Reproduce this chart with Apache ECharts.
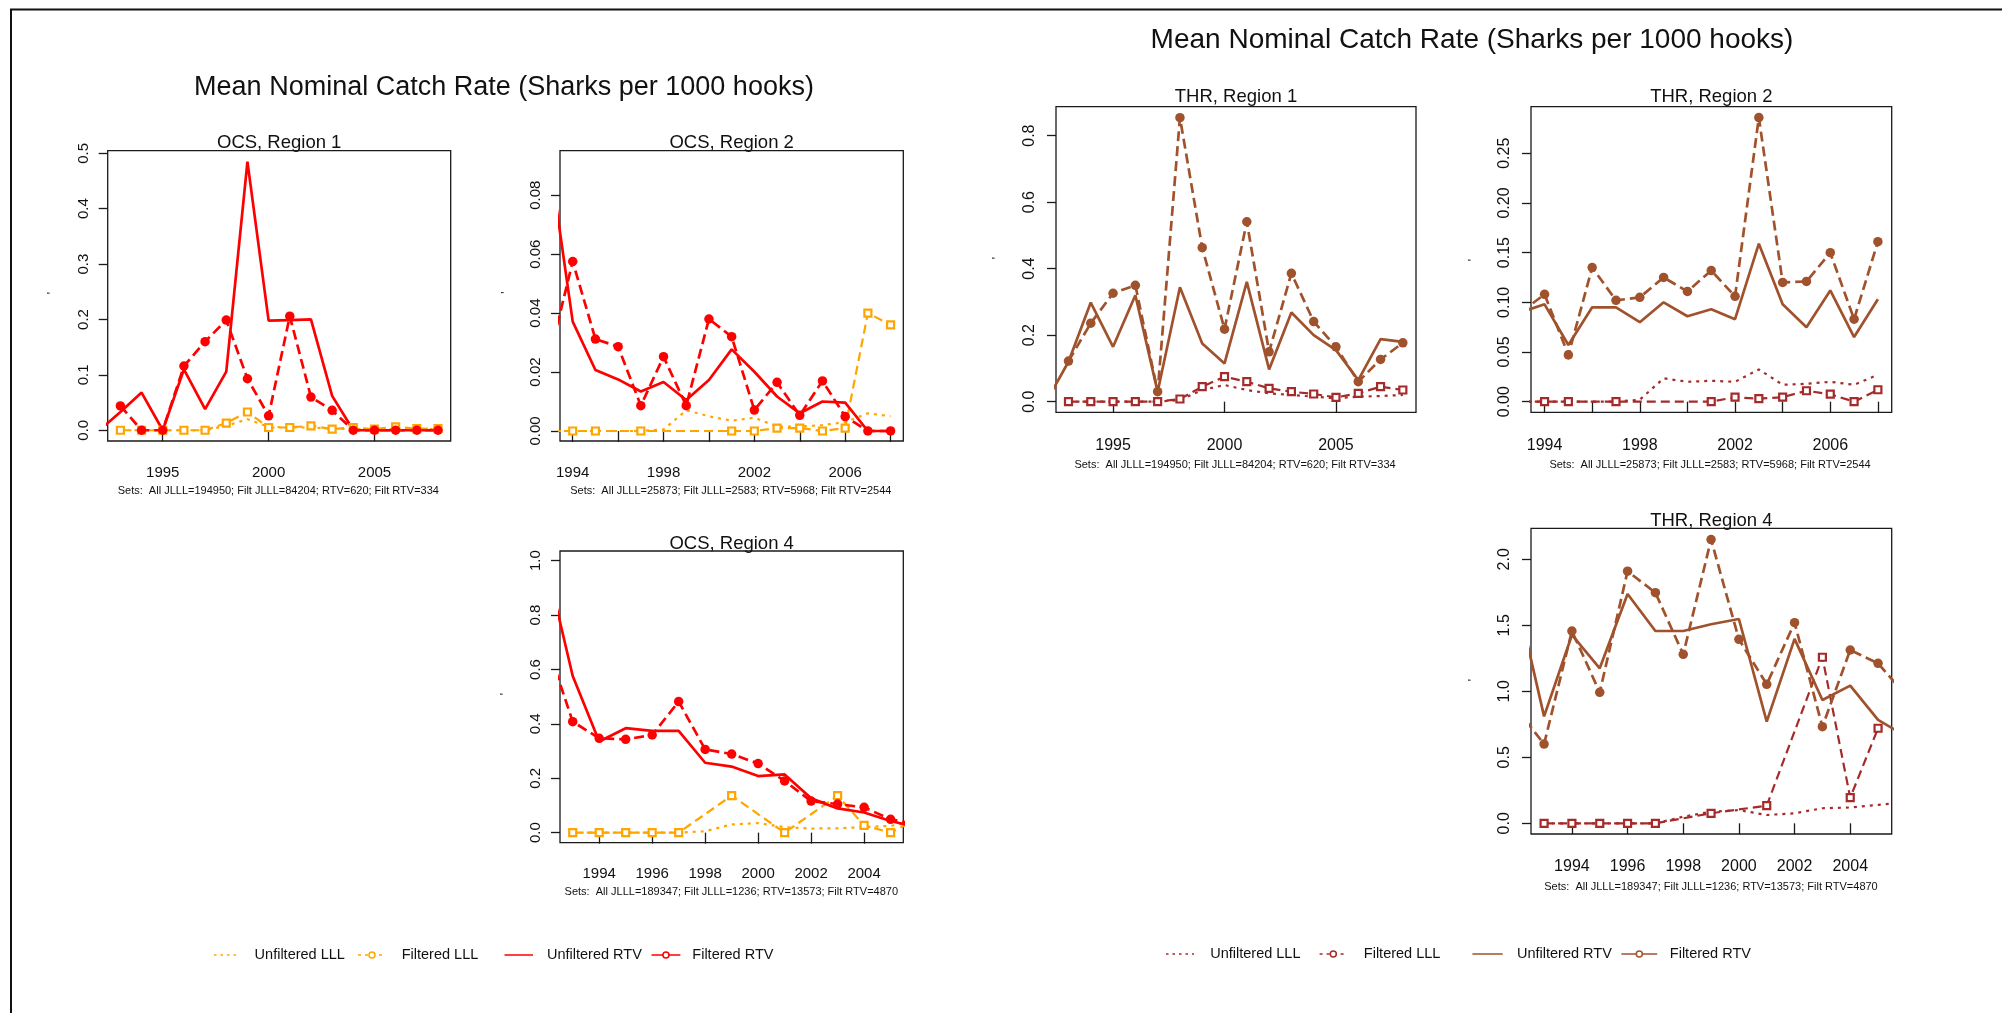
<!DOCTYPE html>
<html><head><meta charset="utf-8">
<script src="https://cdn.jsdelivr.net/npm/echarts/dist/echarts.min.js"></script>
<style>html,body{margin:0;padding:0;background:#fff}#c{width:2002px;height:1013px}</style>
</head><body><div id="c"></div><script>
// ---------- DATA ----------
// OCS, Region 1
const ocsR1Years   = [1992,1993,1994,1995,1996,1997,1998,1999,2000,2001,2002,2003,2004,2005,2006,2007,2008];
const ocsR1UnfLLL  = [null,0,0,0,0,0,0.008,0.020,0.006,0.005,0.005,0.003,0.002,0.002,0.002,0.002,0.002];
const ocsR1FiltLLL = [null,0,0,0,0,0,0.013,0.033,0.005,0.005,0.008,0.002,0.005,0.002,0.006,0.003,0.003];
const ocsR1UnfRTV  = [0,0.033,0.068,0,0.110,0.038,0.106,0.485,0.198,0.199,0.200,0.062,0,0,0,0,0];
const ocsR1FiltRTV = [null,0.044,0,0,0.116,0.160,0.199,0.093,0.026,0.206,0.060,0.036,0,0,0,0,0];
// OCS, Region 2
const ocsR2Years   = [1993,1994,1995,1996,1997,1998,1999,2000,2001,2002,2003,2004,2005,2006,2007,2008];
const ocsR2UnfLLL  = [0,0,0,0,0,0.0005,0.007,0.005,0.0035,0.0045,0.0015,0.0015,0.002,0.003,0.006,0.005];
const ocsR2FiltLLL = [0,0,0,null,0,null,null,null,0,0,0.001,0.001,0,0.001,0.040,0.036];
const ocsR2UnfRTV  = [0.0913,0.0371,0.0207,0.0175,0.0134,0.0166,0.0105,0.0173,0.0277,0.0201,0.0117,0.0060,0.0100,0.0096,0,0];
const ocsR2FiltRTV = [0.026,0.0575,0.0312,0.0286,0.0086,0.0252,0.0086,0.038,0.032,0.0071,0.0165,0.0053,0.017,0.0049,0,0];
// OCS, Region 4
const ocsR4Years   = [1992,1993,1994,1995,1996,1997,1998,1999,2000,2001,2002,2003,2004,2005,2006];
const ocsR4UnfLLL  = [null,0,0,0,0,0,0.005,0.030,0.035,0.020,0.015,0.016,0.020,0.025,0.040];
const ocsR4FiltLLL = [null,0,0,0,0,0,null,0.136,null,0,null,0.136,0.027,0,0.05];
const ocsR4UnfRTV  = [0.99,0.576,0.335,0.384,0.374,0.374,0.257,0.243,0.208,0.214,0.126,0.089,0.074,0.043,0.020];
const ocsR4FiltRTV = [0.70,0.408,0.347,0.343,0.359,0.482,0.306,0.289,0.254,0.190,0.116,0.105,0.093,0.049,0.030];
// THR, Region 1
const thrR1Years   = [1992,1993,1994,1995,1996,1997,1998,1999,2000,2001,2002,2003,2004,2005,2006,2007,2008];
const thrR1UnfLLL  = [null,0,0,0,0,0,0.005,0.035,0.050,0.035,0.025,0.020,0.015,0.010,0.015,0.017,0.020];
const thrR1FiltLLL = [null,0,0,0,0,0,0.008,0.045,0.075,0.060,0.040,0.030,0.023,0.013,0.025,0.045,0.035];
const thrR1UnfRTV  = [0,0.120,0.298,0.165,0.320,0.030,0.344,0.175,0.115,0.360,0.097,0.268,0.200,0.155,0.065,0.188,0.180];
const thrR1FiltRTV = [null,0.122,0.236,0.326,0.350,0.030,0.854,0.463,0.218,0.541,0.150,0.386,0.241,0.165,0.060,0.127,0.177];
// THR, Region 2
const thrR2Years   = [1993,1994,1995,1996,1997,1998,1999,2000,2001,2002,2003,2004,2005,2006,2007,2008];
const thrR2UnfLLL  = [0,0,0,0,0,0.002,0.0235,0.020,0.021,0.020,0.0325,0.017,0.018,0.020,0.017,0.027];
const thrR2FiltLLL = [0,0,0,null,0,null,null,null,0,0.0045,0.003,0.0045,0.011,0.0075,0,0.012];
const thrR2UnfRTV  = [0.090,0.098,0.057,0.095,0.095,0.080,0.100,0.086,0.093,0.083,0.159,0.098,0.075,0.112,0.065,0.103];
const thrR2FiltRTV = [0.090,0.108,0.047,0.135,0.102,0.105,0.125,0.111,0.132,0.106,0.286,0.120,0.121,0.150,0.083,0.161];
// THR, Region 4
const thrR4Years   = [1992,1993,1994,1995,1996,1997,1998,1999,2000,2001,2002,2003,2004,2005,2006];
const thrR4UnfLLL  = [null,0,0,0,0,0,0.050,0.088,0.100,0.063,0.076,0.114,0.120,0.139,0.160];
const thrR4FiltLLL = [null,0,0,0,0,0,null,0.076,null,0.134,null,1.258,0.194,0.720,null];
const thrR4UnfRTV  = [1.73,0.81,1.427,1.174,1.737,1.457,1.457,1.508,1.548,0.770,1.397,0.934,1.043,0.783,0.660];
const thrR4FiltRTV = [0.87,0.60,1.457,0.992,1.910,1.747,1.280,2.150,1.394,1.053,1.520,0.732,1.313,1.212,0.970];

// tick values / labels
const ocsR1XTicks = [1995,2000,2005];
const ocsR1YTicks = [0,0.1,0.2,0.3,0.4,0.5];
const ocsR2XTicks = [1994,1996,1998,2000,2002,2004,2006,2008];
const ocsR2XLabels = [1994,1998,2002,2006];
const ocsR2YTicks = [0,0.02,0.04,0.06,0.08];
const ocsR4XTicks = [1994,1996,1998,2000,2002,2004];
const ocsR4YTicks = [0,0.2,0.4,0.6,0.8,1.0];
const thrR1XTicks = [1995,2000,2005];
const thrR1YTicks = [0,0.2,0.4,0.6,0.8];
const thrR2XTicks = [1994,1996,1998,2000,2002,2004,2006,2008];
const thrR2XLabels = [1994,1998,2002,2006];
const thrR2YTicks = [0,0.05,0.10,0.15,0.20,0.25];
const thrR4XTicks = [1994,1996,1998,2000,2002,2004];
const thrR4YTicks = [0,0.5,1.0,1.5,2.0];

// texts
const mainTitle = 'Mean Nominal Catch Rate (Sharks per 1000 hooks)';
const legendNames = ['Unfiltered LLL','Filtered LLL','Unfiltered RTV','Filtered RTV'];
const setsR1 = 'Sets:  All JLLL=194950; Filt JLLL=84204; RTV=620; Filt RTV=334';
const setsR2 = 'Sets:  All JLLL=25873; Filt JLLL=2583; RTV=5968; Filt RTV=2544';
const setsR4 = 'Sets:  All JLLL=189347; Filt JLLL=1236; RTV=13573; Filt RTV=4870';

// ---------- LAYOUT ----------
const FONT = '"Liberation Sans", Arial, Helvetica, sans-serif';
const ORANGE = '#FFA500', RED = '#FF0000', SIENNA = '#A0522D', BROWN = '#A52A2A';

const panels = [
  {title:'OCS, Region 1', years:ocsR1Years, s:[ocsR1UnfLLL,ocsR1FiltLLL,ocsR1UnfRTV,ocsR1FiltRTV], lll:ORANGE, rtv:RED,
   box:[107.7,150.7,343,290.3], x:[1992.4,2008.6], y:[-0.0194,0.5047], xt:ocsR1XTicks, xl:ocsR1XTicks, yt:ocsR1YTicks, dec:1,
   fs:15, titleY:142.5, sets:setsR1, setsPos:[278.3,490.7], mark:[53,293]},
  {title:'OCS, Region 2', years:ocsR2Years, s:[ocsR2UnfLLL,ocsR2FiltLLL,ocsR2UnfRTV,ocsR2FiltRTV], lll:ORANGE, rtv:RED,
   box:[560,150.7,343.3,290.3], x:[1993.44,2008.56], y:[-0.0034,0.0951], xt:ocsR2XTicks, xl:ocsR2XLabels, yt:ocsR2YTicks, dec:2,
   fs:15, titleY:142.5, sets:setsR2, setsPos:[730.8,490.7], mark:[506.7,292.7]},
  {title:'OCS, Region 4', years:ocsR4Years, s:[ocsR4UnfLLL,ocsR4FiltLLL,ocsR4UnfRTV,ocsR4FiltRTV], lll:ORANGE, rtv:RED,
   box:[560,551,343.3,291.7], x:[1992.52,2005.48], y:[-0.037,1.0356], xt:ocsR4XTicks, xl:ocsR4XTicks, yt:ocsR4YTicks, dec:1,
   fs:15, titleY:544, sets:setsR4, setsPos:[731.3,892.3], mark:[506,694]},
  {title:'THR, Region 1', years:thrR1Years, s:[thrR1UnfLLL,thrR1FiltLLL,thrR1UnfRTV,thrR1FiltRTV], lll:BROWN, rtv:SIENNA,
   box:[1056,106.7,360,305.6], x:[1992.44,2008.59], y:[-0.032,0.887], xt:thrR1XTicks, xl:thrR1XTicks, yt:thrR1YTicks, dec:1,
   fs:16, titleY:97.3, sets:setsR1, setsPos:[1235,465], mark:[998,258]},
  {title:'THR, Region 2', years:thrR2Years, s:[thrR2UnfLLL,thrR2FiltLLL,thrR2UnfRTV,thrR2FiltRTV], lll:BROWN, rtv:SIENNA,
   box:[1531,106.7,360.7,305.6], x:[1993.43,2008.58], y:[-0.0107,0.2969], xt:thrR2XTicks, xl:thrR2XLabels, yt:thrR2YTicks, dec:2,
   fs:16, titleY:97.3, sets:setsR2, setsPos:[1710,465], mark:[1474,260]},
  {title:'THR, Region 4', years:thrR4Years, s:[thrR4UnfLLL,thrR4FiltLLL,thrR4UnfRTV,thrR4FiltRTV], lll:BROWN, rtv:SIENNA,
   box:[1531,528.3,360.7,305.7], x:[1992.53,2005.49], y:[-0.081,2.235], xt:thrR4XTicks, xl:thrR4XTicks, yt:thrR4YTicks, dec:1,
   fs:16, titleY:520.7, sets:setsR4, setsPos:[1711,886.7], mark:[1474,680]}
];

function pairs(years, vals){
  const out = [];
  years.forEach((y,i)=>{ if(vals[i] !== null && vals[i] !== undefined) out.push([y, vals[i]]); });
  return out;
}

const grid = [], xAxis = [], yAxis = [], series = [], graphic = [];
panels.forEach((p, gi) => {
  grid.push({left:p.box[0], top:p.box[1], width:p.box[2], height:p.box[3], show:true,
    borderColor:'#1a1a1a', borderWidth:1.3, backgroundColor:'transparent', containLabel:false});
  xAxis.push({type:'value', gridIndex:gi, min:p.x[0], max:p.x[1],
    axisLine:{show:false}, splitLine:{show:false},
    axisTick:{show:true, length:11, customValues:p.xt, lineStyle:{color:'#1a1a1a', width:1.3}},
    axisLabel:{customValues:p.xl, margin:p.fs===15?24:25, fontSize:p.fs, color:'#111', fontFamily:FONT,
      formatter:v=>String(Math.round(v))}});
  yAxis.push({type:'value', gridIndex:gi, min:p.y[0], max:p.y[1],
    axisLine:{show:false}, splitLine:{show:false},
    axisTick:{show:true, length:9, customValues:p.yt, lineStyle:{color:'#1a1a1a', width:1.3}},
    axisLabel:{customValues:p.yt, rotate:90, margin:p.fs===15?16.5:18, fontSize:p.fs, color:'#111', fontFamily:FONT,
      formatter:v=>Number(v).toFixed(p.dec)}});
  const base = {type:'line', xAxisIndex:gi, yAxisIndex:gi, animation:false, silent:true, clip:true,
    emphasis:{disabled:true}, showAllSymbol:true};
  // Unfiltered LLL (dotted)
  series.push(Object.assign({}, base, {name:legendNames[0], data:pairs(p.years,p.s[0]), symbol:'none',
    lineStyle:{color:p.lll, width:2.2, type:[3,5]}}));
  // Filtered LLL (dashed + open squares)
  series.push(Object.assign({}, base, {name:legendNames[1], data:pairs(p.years,p.s[1]), symbol:'rect', symbolSize:7,
    itemStyle:{color:'#fff', borderColor:p.lll, borderWidth:2.2},
    lineStyle:{color:p.lll, width:2.2, type:[9,5]}}));
  // Unfiltered RTV (solid)
  series.push(Object.assign({}, base, {name:legendNames[2], data:pairs(p.years,p.s[2]), symbol:'none',
    lineStyle:{color:p.rtv, width:2.7, type:'solid'}}));
  // Filtered RTV (dashed + filled circles)
  series.push(Object.assign({}, base, {name:legendNames[3], data:pairs(p.years,p.s[3]), symbol:'circle', symbolSize:9.5,
    itemStyle:{color:p.rtv, borderWidth:0},
    lineStyle:{color:p.rtv, width:2.7, type:[10,5]}}));

  // panel title
  graphic.push({type:'text', x:p.box[0]+p.box[2]/2, y:p.titleY, silent:true,
    style:{text:p.title, fontSize:18.5, fontFamily:FONT, fill:'#111', align:'center', verticalAlign:'middle'}});
  // sets subtitle
  graphic.push({type:'text', x:p.setsPos[0], y:p.setsPos[1], silent:true,
    style:{text:p.sets, fontSize:11, fontFamily:FONT, fill:'#111', align:'center', verticalAlign:'middle'}});
  // tiny y-label mark
  graphic.push({type:'text', x:p.mark[0], y:p.mark[1], rotation:Math.PI/2, silent:true,
    style:{text:"'", fontSize:12, fontFamily:FONT, fill:'#223', align:'center', verticalAlign:'middle'}});
});

// main titles
graphic.push({type:'text', x:504, y:88, silent:true,
  style:{text:mainTitle, fontSize:27, fontFamily:FONT, fill:'#111', align:'center', verticalAlign:'middle'}});
graphic.push({type:'text', x:1472, y:40, silent:true,
  style:{text:mainTitle, fontSize:28, fontFamily:FONT, fill:'#111', align:'center', verticalAlign:'middle'}});

// legends
function legend(y, lll, rtv, pos){
  const styles = [
    {c:lll, dash:[2.5,4], marker:false},
    {c:lll, dash:[3,4], marker:true},
    {c:rtv, dash:null, marker:false},
    {c:rtv, dash:null, marker:true}
  ];
  pos.forEach((q,i)=>{
    const st = styles[i];
    graphic.push({type:'line', silent:true, shape:{x1:q[0], y1:y, x2:q[1], y2:y},
      style:{stroke:st.c, lineWidth:1.5, lineDash:st.dash}});
    if(st.marker){
      graphic.push({type:'circle', silent:true, shape:{cx:(q[0]+q[1])/2, cy:y, r:3},
        style:{fill:'#fff', stroke:st.c, lineWidth:1.5}});
    }
    graphic.push({type:'text', x:q[2], y:y, silent:true,
      style:{text:legendNames[i], fontSize:14.5, fontFamily:FONT, fill:'#111', align:'left', verticalAlign:'middle'}});
  });
}
legend(955, ORANGE, RED, [[214,240,254.6],[358,386,401.7],[504.5,533,547],[651.5,680.4,692.3]]);
legend(954, BROWN, SIENNA, [[1166,1194,1210.2],[1319.6,1347,1363.8],[1472.4,1502.7,1517],[1621.4,1657.2,1669.8]]);

// outer frame (top and left)
graphic.push({type:'line', silent:true, shape:{x1:10, y1:9.5, x2:2002, y2:9.5}, style:{stroke:'#111', lineWidth:2}});
graphic.push({type:'line', silent:true, shape:{x1:11, y1:9, x2:11, y2:1013}, style:{stroke:'#111', lineWidth:2}});

const chart = echarts.init(document.getElementById('c'), null, {renderer:'canvas'});
chart.setOption({animation:false, backgroundColor:'#fff', grid, xAxis, yAxis, series, graphic});
</script></body></html>
